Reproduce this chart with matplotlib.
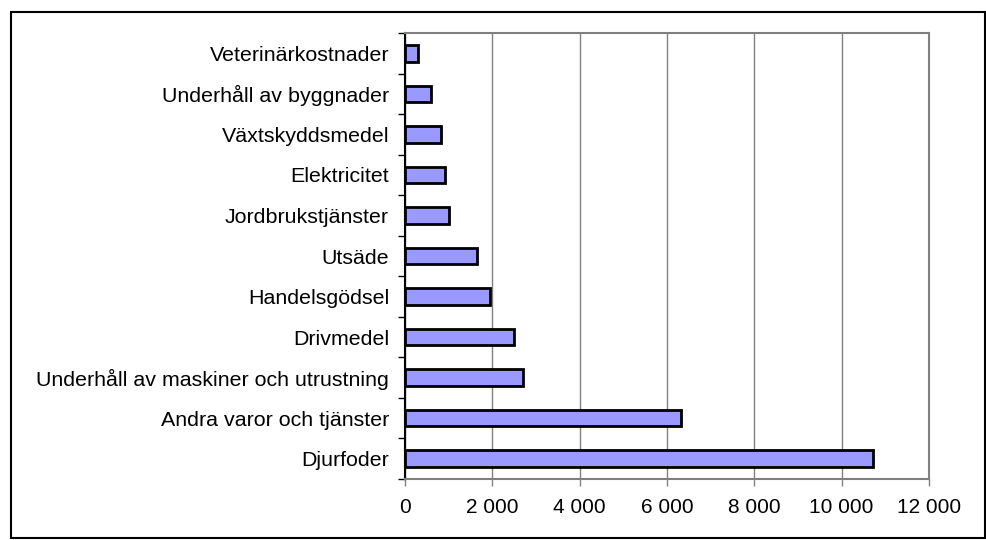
import matplotlib
matplotlib.use("Agg")
import matplotlib.pyplot as plt
from matplotlib.patches import Rectangle
from matplotlib.ticker import FuncFormatter, FixedLocator

plt.rcParams['font.family'] = ['Liberation Sans', 'DejaVu Sans']

categories = [
    "Djurfoder",
    "Andra varor och tjänster",
    "Underhåll av maskiner och utrustning",
    "Drivmedel",
    "Handelsgödsel",
    "Utsäde",
    "Jordbrukstjänster",
    "Elektricitet",
    "Växtskyddsmedel",
    "Underhåll av byggnader",
    "Veterinärkostnader",
]
values = [10710, 6330, 2700, 2485, 1955, 1660, 1000, 920, 830, 600, 300]
xticks = [0, 2000, 4000, 6000, 8000, 10000, 12000]

fig = plt.figure(figsize=(9.86, 5.4), dpi=100)
W, H = 986, 540
ax = fig.add_axes([405 / W, 1 - 479 / H, (929 - 405) / W, (479 - 33) / H])

y = list(range(len(categories)))
ax.barh(y, values, height=0.41, color='#9999FF', edgecolor='black', linewidth=2, zorder=3)

ax.set_xlim(0, 12000)
ax.set_ylim(-0.5, len(categories) - 0.5)
ax.set_xticks(xticks)
ax.xaxis.set_major_formatter(FuncFormatter(lambda v, p: f"{int(v):,}".replace(",", " ")))
ax.set_yticks(y)
ax.set_yticklabels(categories)
ax.yaxis.set_minor_locator(FixedLocator([i - 0.5 for i in range(len(categories) + 1)]))
ax.tick_params(axis='y', which='major', length=0, pad=11.5, labelsize=15.4)
ax.tick_params(axis='y', which='minor', length=5, width=1, color='black')
ax.tick_params(axis='x', which='major', length=5, width=1, color='#808080', pad=9, labelsize=15)

ax.grid(axis='x', color='#808080', linewidth=1, zorder=0)
for side in ['top', 'right', 'bottom']:
    ax.spines[side].set_color('#808080')
    ax.spines[side].set_linewidth(1.5)
ax.spines['left'].set_color('black')
ax.spines['left'].set_linewidth(1.5)

fig.patches.append(Rectangle((11 / W, 1 - 538 / H), (985 - 11) / W, (538 - 12) / H,
                             transform=fig.transFigure, fill=False, edgecolor='black',
                             linewidth=1.5))

fig.savefig("out.png", dpi=100)
